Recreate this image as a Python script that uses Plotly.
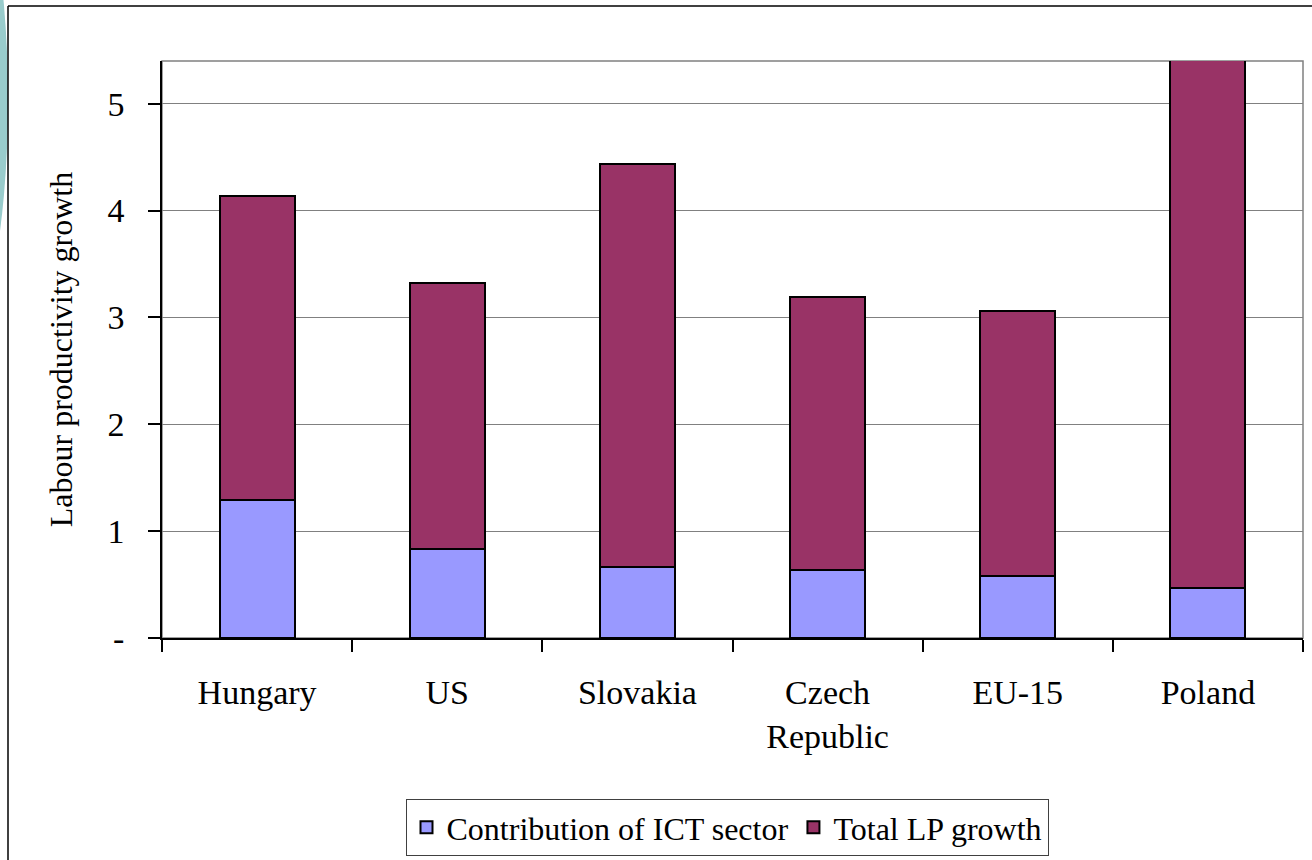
import plotly.graph_objects as go

countries = ["Hungary", "US", "Slovakia", "Czech<br>Republic", "EU-15", "Poland"]
ict_contribution = [1.29, 0.83, 0.66, 0.64, 0.58, 0.47]
total_lp_growth = [4.14, 3.32, 4.44, 3.19, 3.06, 5.45]
y_ticks = [0, 1, 2, 3, 4, 5]
y_tick_text = ["-", "1", "2", "3", "4", "5"]

# upper segment is what sits on top of the ICT part
rest = [round(t - i, 2) for t, i in zip(total_lp_growth, ict_contribution)]

FONT = "Liberation Serif, Times New Roman, serif"

# plot area in pixels: x 162..1303, y 61..638
L, R, T, B = 162, 1303, 61, 638


def px(x):
    return (x - L) / (R - L)


def py(y):
    return (B - y) / (B - T)


fig = go.Figure()
fig.add_trace(go.Bar(
    x=countries, y=ict_contribution, name="Contribution of ICT sector",
    marker=dict(color="#9999FF", line=dict(color="black", width=2)),
    width=0.395,
))
fig.add_trace(go.Bar(
    x=countries, y=rest, name="Total LP growth",
    marker=dict(color="#993366", line=dict(color="black", width=2)),
    width=0.395,
))

shapes = [
    # teal decoration at the left edge
    dict(type="circle", xref="paper", yref="paper", x0=px(-100), x1=px(8),
         y0=py(350), y1=py(-150), fillcolor="#99CCCC", line=dict(width=0),
         layer="above"),
    # outer frame (left and top)
    dict(type="line", xref="paper", yref="paper", x0=px(8), x1=px(8),
         y0=py(6), y1=py(900), line=dict(color="black", width=1.5)),
    dict(type="line", xref="paper", yref="paper", x0=px(8), x1=px(1330),
         y0=py(6), y1=py(6), line=dict(color="black", width=1.5)),
    # plot area border
    dict(type="rect", xref="paper", yref="paper", x0=0, x1=1, y0=0, y1=1,
         line=dict(color="#808080", width=1.5), layer="below"),
]

fig.update_layout(
    width=1312, height=860,
    margin=dict(l=L, r=1312 - R, t=T, b=860 - B, autoexpand=False),
    paper_bgcolor="white", plot_bgcolor="white",
    barmode="stack", bargap=0.6,
    font=dict(family=FONT, size=34, color="black"),
    shapes=shapes,
    showlegend=True,
    legend=dict(
        orientation="h", x=px(727), xanchor="center", y=py(856), yanchor="bottom",
        font=dict(family=FONT, size=32), bordercolor="#404040", borderwidth=1,
        traceorder="normal", itemsizing="constant", bgcolor="white",
        itemwidth=30,
    ),
    xaxis=dict(
        showline=True, linecolor="black", linewidth=1.5, automargin=False,
        ticks="outside", ticklen=12, tickcolor="black", tickwidth=1.5,
        tickson="boundaries", showgrid=False, ticklabelstandoff=23,
        tickfont=dict(family=FONT, size=34),
    ),
    yaxis=dict(
        range=[0, 5.4], tickvals=y_ticks, ticktext=y_tick_text, automargin=False,
        showline=True, linecolor="black", linewidth=1.5,
        ticks="outside", ticklen=12, tickcolor="black", tickwidth=1.5,
        showgrid=True, gridcolor="#808080", gridwidth=1.2, zeroline=False,
        ticklabelstandoff=17, tickfont=dict(family=FONT, size=34),
        title=dict(text="Labour productivity growth", standoff=25,
                   font=dict(family=FONT, size=32)),
    ),
)

# drop the page's default body margin so the figure sits at the window origin
fig.write_html(
    "out.html",
    config={"displayModeBar": False},
    post_script="document.body.style.margin='0px';",
)
